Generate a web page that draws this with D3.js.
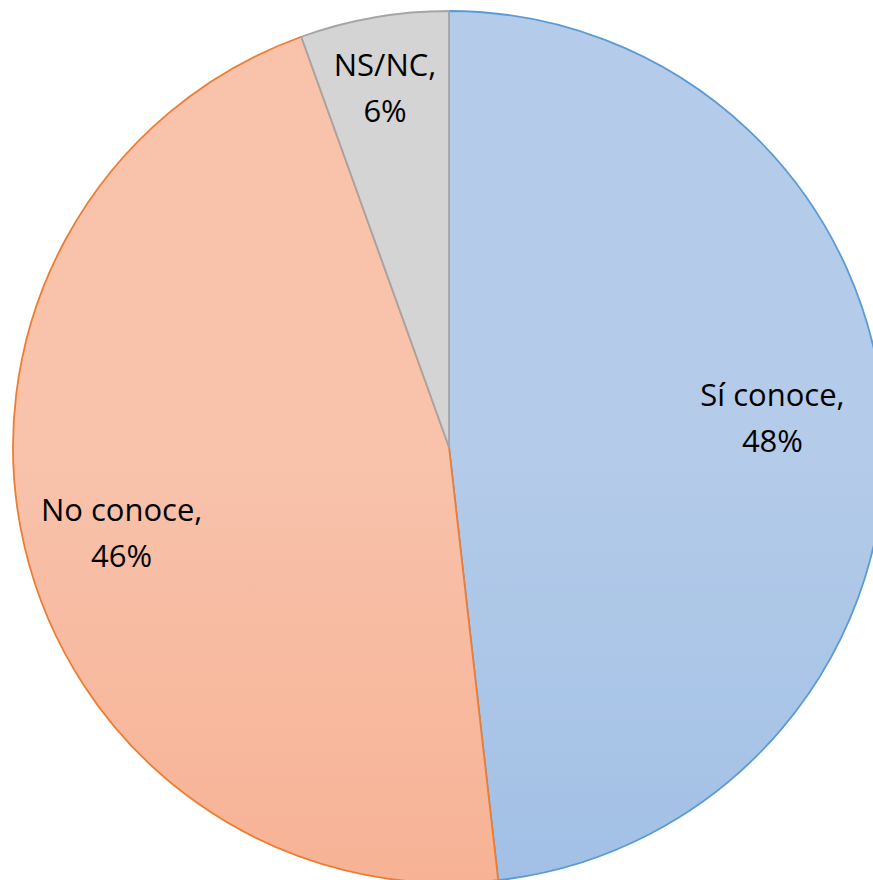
<!DOCTYPE html>
<html>
<head>
<meta charset="utf-8">
<script src="https://cdn.jsdelivr.net/npm/d3@7"></script>
<style>
  html, body { margin: 0; padding: 0; background: #fff; }
  svg { display: block; }
  .lbl { font-family: "Open Sans", "Liberation Sans", sans-serif; font-size: 31px; fill: #000; }
</style>
</head>
<body>
<div id="chart"></div>
<script>
// data (labels rounded)
const categories = ["Sí conoce", "No conoce", "NS/NC"];
const values = [48.2, 46.3, 5.5];
const labelText = ["48%", "46%", "6%"];

// colours (Office style gradient fills)
const fillTop = ["#b4cbe9", "#f8c2ab", "#d4d4d4"];
const fillBottom = ["#8fb5e2", "#f6a27e", "#cbcbcb"];
const strokes = ["#5b9bd5", "#ed7d31", "#a5a5a5"];

const width = 873, height = 880;
const cx = 449, cy = 447, radius = 436;
// label placement along each slice bisector, and small vertical nudges
const labelR = [0.743, 0.771, 0.853];
const labelShift = [-12, 9, 6];

let svg = d3.select("#chart")
    .append("svg")
    .attr("width", width)
    .attr("height", height);

let defs = svg.append("defs");
categories.forEach(function (c, i) {
    let g = defs.append("linearGradient")
        .attr("id", "grad" + i)
        .attr("gradientUnits", "userSpaceOnUse")
        .attr("x1", 0).attr("y1", cy - radius)
        .attr("x2", 0).attr("y2", cy + radius);
    g.append("stop").attr("offset", "0%").attr("stop-color", fillTop[i]);
    g.append("stop").attr("offset", "100%").attr("stop-color", fillBottom[i]);
});

let data = categories.map(function (c, i) {
    return { name: c, value: values[i], label: labelText[i], idx: i };
});

let pie = d3.pie().sort(null).value(d => d.value);
let arc = d3.arc().innerRadius(0).outerRadius(radius);

let g = svg.append("g")
    .attr("transform", `translate(${cx}, ${cy})`);

let arcs = pie(data);

g.selectAll("path")
    .data(arcs)
    .join("path")
    .attr("d", arc)
    .attr("fill", d => `url(#grad${d.data.idx})`)
    .attr("stroke", d => strokes[d.data.idx])
    .attr("stroke-width", 1.8)
    .attr("stroke-linejoin", "round");

// labels: "Category," on line one, percent on line two
let labels = g.selectAll("text")
    .data(arcs)
    .join("text")
    .attr("class", "lbl")
    .attr("text-anchor", "middle")
    .attr("transform", function (d) {
        let r = radius * labelR[d.data.idx];
        let p = d3.arc().innerRadius(r).outerRadius(r).centroid(d);
        return `translate(${p[0]}, ${p[1] + labelShift[d.data.idx]})`;
    });

labels.append("tspan")
    .attr("x", 0)
    .attr("y", -11)
    .text(d => d.data.name + ",");
labels.append("tspan")
    .attr("x", 0)
    .attr("y", 35)
    .text(d => d.data.label);
</script>
</body>
</html>
